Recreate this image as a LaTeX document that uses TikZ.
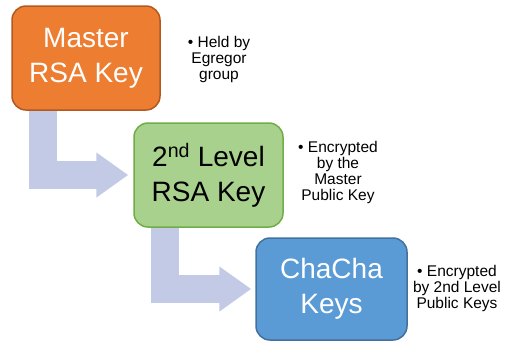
\documentclass[tikz,border=0pt]{standalone}
\usepackage{fontspec}
\setmainfont{Liberation Sans}
\usetikzlibrary{arrows.meta}

\definecolor{masterfill}{HTML}{ED7D31}
\definecolor{masterline}{HTML}{B1591F}
\definecolor{levelfill}{HTML}{A9D18E}
\definecolor{levelline}{HTML}{70AD47}
\definecolor{chachafill}{HTML}{5B9BD5}
\definecolor{chachaline}{HTML}{41719C}
\definecolor{flowarrow}{HTML}{C3CAE6}

\tikzset{
  keybox/.style={draw, line width=1.5pt, rounded corners=14pt, minimum width=148pt,
    minimum height=104pt, inner sep=0pt, align=center, font=\fontsize{28}{35}\selectfont},
  keynote/.style={inner sep=0pt, align=center, font=\fontsize{15.5}{16}\selectfont},
  bentarrow/.style={draw=flowarrow, line width=28pt, line join=miter,
    -{Triangle[length=32pt,width=43pt]}}
}

\begin{document}
\begin{tikzpicture}[x=1pt,y=-1pt]
		\useasboundingbox (0,0) rectangle (506,341);
		\node[keybox, fill=masterfill, draw=masterline, text=white] (master) at (86,58) {Master\\RSA Key};
		\node[keybox, fill=levelfill, draw=levelline, minimum width=149pt] (level) at (208.5,175) {2\textsuperscript{nd} Level\\RSA Key};
		\node[keybox, fill=chachafill, draw=chachaline, text=white, minimum width=151pt, minimum height=102pt] (chacha) at (331.5,289) {ChaCha\\Keys};
		\coordinate (mastertip) at ([xshift=-5pt]level.west);
		\coordinate (leveltip) at ([xshift=-4pt]chacha.west);
		\draw[bentarrow] ([xshift=32pt]master.south west) |- (mastertip);
		\draw[bentarrow] ([xshift=32pt]level.south west) |- (leveltip);
		\node[keynote] (heldby) at (219,59) {• Held by\\Egregor\\group};
		\node[keynote] (bymaster) at (338,172) {• Encrypted\\by the\\Master\\Public Key};
		\node[keynote] (bylevel) at (457,288) {• Encrypted\\by 2nd Level\\Public Keys};
\end{tikzpicture}
\end{document}
